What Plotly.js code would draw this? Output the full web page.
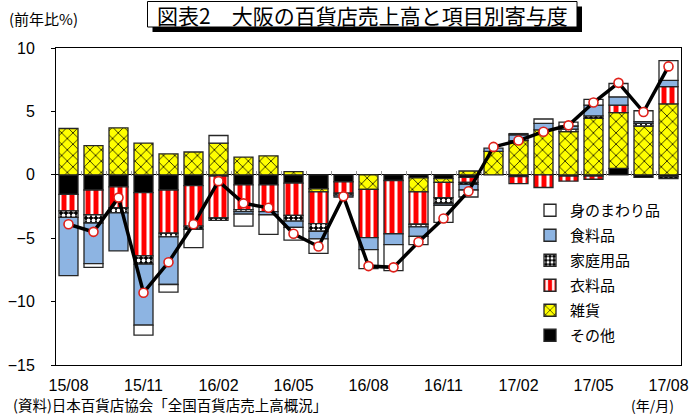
<!DOCTYPE html>
<html>
<head>
<meta charset="utf-8">
<script src="https://cdn.plot.ly/plotly-3.0.1.min.js"></script>
<style>
html,body{margin:0;padding:0;background:#fff;}
#chart{width:692px;height:416px;}
</style>
</head>
<body>
<div id="chart"></div>
<script>
// ---- Data ----
const months = ['15/08','15/09','15/10','15/11','15/12','16/01','16/02','16/03','16/04','16/05','16/06','16/07','16/08','16/09','16/10','16/11','16/12','17/01','17/02','17/03','17/04','17/05','17/06','17/07','17/08'];
const tickLabels = ['15/08','15/11','16/02','16/05','16/08','16/11','17/02','17/05','17/08'];

const seriesNames = ['その他','雑貨','衣料品','家庭用品','食料品','身のまわり品'];
const other     = [-1.55,-1.2,-0.95,-1.4,-1.2,-0.85,-0.1,-0.8,-0.8,-0.65,-1.1,-0.55,0,-0.45,-0.25,-0.3,-0.2,0,-0.15,0,-0.1,-0.1,0.5,-0.2,-0.15];
const zakka     = [3.65,2.3,3.7,2.5,1.65,1.8,2.5,1.4,1.5,0.25,-0.25,0,-1.15,0,-1.1,-0.3,0.3,1.85,2.7,3.55,3.4,4.45,4.4,3.85,5.6];
const clothing  = [-1.3,-1.95,-1.65,-5.0,-3.4,-3.2,-3.3,-1.95,-2.1,-2.55,-2.5,-0.9,-3.8,-4.2,-2.55,-1.2,-0.4,0,-0.55,-1.0,-0.4,-0.25,0.6,0,1.35];
const household = [-0.5,-0.65,-0.4,-0.65,-0.3,-0.25,-0.2,-0.15,0,-0.45,-0.6,-0.15,0,0,-0.2,-0.45,-0.15,0,0,0,0.2,0.2,0,0.2,-0.15];
const food      = [-4.6,-3.2,-3.0,-4.8,-3.75,0,0,-0.2,-0.25,-0.5,-0.6,-0.15,-0.95,-0.85,-0.75,-0.15,-0.45,0.25,0.45,0.5,0.25,0.85,0.65,0.15,0.5];
const personal  = [0,-0.3,0,-0.8,-0.6,-1.45,0.6,-0.95,-1.55,-1.0,-1.15,0,-1.5,-2.05,-0.65,-1.35,-0.55,0,0.1,0.35,0.3,0.45,1.05,0.85,1.55];
const total     = [-3.9,-4.5,-1.8,-9.3,-6.9,-3.9,-0.5,-2.25,-2.6,-4.65,-5.65,-1.7,-7.2,-7.3,-5.3,-3.45,-1.3,2.2,2.7,3.4,3.9,5.7,7.25,4.95,8.55];

// ---- Styles ----
const FONT = '"Noto Sans CJK JP", "Noto Sans", sans-serif';
const NUMFONT = '"Liberation Sans", Arial, sans-serif';
const styles = [
  {color:'#000000'},
  {color:'#FFFF00', pattern:{shape:'x', bgcolor:'#FFFF00', fgcolor:'#000000', size:8, solidity:0.18}},
  {color:'#FF0000', pattern:{shape:'|', bgcolor:'#FF0000', fgcolor:'#FFFFFF', size:8, solidity:0.38}},
  {color:'#000000', pattern:{shape:'.', bgcolor:'#000000', fgcolor:'#FFFFFF', size:5, solidity:0.45}},
  {color:'#8DB4E2'},
  {color:'#FFFFFF'}
];
const seriesVals = [other, zakka, clothing, household, food, personal];

const traces = seriesVals.map((vals, i) => {
  const m = {color: styles[i].color, line:{color:'#262626', width:1.3}};
  if (styles[i].pattern) m.pattern = styles[i].pattern;
  return {
    type:'bar', name: seriesNames[i], x: months,
    y: vals.map(v => v === 0 ? null : v),
    marker: m, legendgroup: 'g'+i, legendrank: seriesVals.length - i,
    hoverinfo:'skip'
  };
});

traces.push({
  type:'scatter', mode:'lines+markers', x: months, y: total, xaxis:'x2',
  line:{color:'#000000', width:3.5},
  marker:{symbol:'circle', size:9, color:'#FFFFFF', line:{color:'#E0201A', width:1.6}},
  showlegend:false, hoverinfo:'skip'
});

// plot area in pixels: x 56..681, y 48..365
const L=56, R=681, T=48, B=365;
const px = x => (x - L) / (R - L);
const py = y => (B - y) / (B - T);

const layout = {
  width:692, height:416,
  margin:{l:L, r:692-R, t:T, b:416-B, pad:0},
  paper_bgcolor:'#FFFFFF', plot_bgcolor:'#FFFFFF',
  font:{family:FONT, color:'#000000', size:15},
  barmode:'relative', bargap:0.24,
  showlegend:true,
  legend:{
    x: px(530), xanchor:'left', y: py(194), yanchor:'top',
    traceorder:'grouped', tracegroupgap:2.5,
    bgcolor:'rgba(0,0,0,0)', borderwidth:0,
    font:{family:FONT, size:15, color:'#000000'}
  },
  xaxis:{
    type:'category', categoryorder:'array', categoryarray: months,
    range:[-0.5, months.length-0.5],
    tickmode:'array', tickvals: tickLabels, ticktext: tickLabels,
    ticks:'', showgrid:false, zeroline:false,
    showline:true, linecolor:'#000000', linewidth:1, mirror:true,
    tickfont:{family:NUMFONT, size:16, color:'#000000'},
    ticklabelstandoff: 6
  },
  xaxis2:{
    type:'category', categoryorder:'array', categoryarray: months,
    range:[-0.5, months.length-0.5],
    overlaying:'x', anchor:'free', position: py(175.5), side:'bottom',
    tickson:'boundaries', ticks:'inside', ticklen:5, tickcolor:'#9a9a9a', tickwidth:1,
    showticklabels:false, showgrid:false, zeroline:false, showline:false
  },
  yaxis:{
    range:[-15, 10], tickmode:'linear', tick0:0, dtick:5,
    ticks:'outside', ticklen:4, tickcolor:'#000000',
    showgrid:false, zeroline:true, zerolinecolor:'#000000', zerolinewidth:1,
    showline:true, linecolor:'#000000', linewidth:1, mirror:true,
    tickfont:{family:NUMFONT, size:16, color:'#000000'},
    ticklabelstandoff: 13
  },
  shapes:[
    {type:'rect', xref:'paper', yref:'paper', x0:px(152.5), x1:px(582), y0:py(6.5), y1:py(32),
     fillcolor:'#000000', line:{width:0}, layer:'above'},
    {type:'rect', xref:'paper', yref:'paper', x0:px(147.5), x1:px(577), y0:py(1.5), y1:py(27),
     fillcolor:'#FFFFFF', line:{color:'#000000', width:1}, layer:'above'}
  ],
  annotations:[
    {text:'図表2　大阪の百貨店売上高と項目別寄与度', xref:'paper', yref:'paper',
     x:px(362), y:py(14.5), xanchor:'center', yanchor:'middle', showarrow:false,
     font:{family:FONT, size:21, color:'#000000'}},
    {text:'(前年比%)', xref:'paper', yref:'paper', x:px(43), y:py(19),
     xanchor:'center', yanchor:'middle', showarrow:false,
     font:{family:FONT, size:15, color:'#000000'}},
    {text:'(年/月)', xref:'paper', yref:'paper', x:px(652), y:py(416), borderpad:0,
     xanchor:'center', yanchor:'bottom', showarrow:false,
     font:{family:FONT, size:14, color:'#000000'}},
    {text:'(資料)日本百貨店協会「全国百貨店売上高概況」', xref:'paper', yref:'paper',
     x:px(12), y:py(416), borderpad:0, xanchor:'left', yanchor:'bottom', showarrow:false,
     font:{family:FONT, size:14.5, color:'#000000'}}
  ]
};

Plotly.newPlot('chart', traces, layout, {staticPlot:true, displayModeBar:false});
</script>
</body>
</html>
